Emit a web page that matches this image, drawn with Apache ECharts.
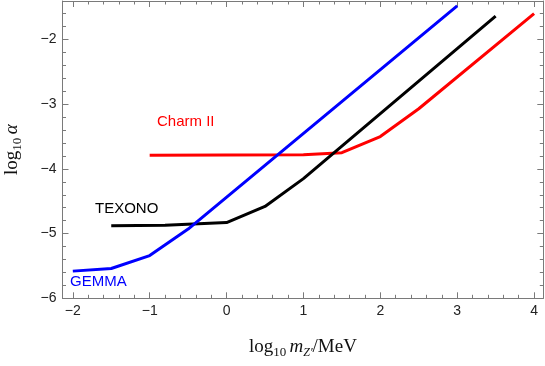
<!DOCTYPE html>
<html>
<head>
<meta charset="utf-8">
<script src="https://cdn.jsdelivr.net/npm/echarts@6/dist/echarts.min.js"></script>
<style>html,body{margin:0;padding:0;background:#fff;}#c{width:545px;height:366px;}</style>
</head>
<body>
<div id="c"></div>
<script>
// ---- data ----
var gemmaX  = [-2, -1.5, -1, -0.5, 3];
var gemmaY  = [-5.58, -5.54, -5.34, -4.93, -1.48];
var texonoX = [-1.5, -0.8, 0, 0.5, 1, 3.5];
var texonoY = [-4.88, -4.87, -4.83, -4.58, -4.15, -1.64];
var charmX  = [-1, 1, 1.5, 2, 2.5, 4];
var charmY  = [-3.79, -3.78, -3.75, -3.5, -3.07, -1.6];
var xTicks  = [-2, -1, 0, 1, 2, 3, 4];
var yTicks  = [-6, -5, -4, -3, -2];
var seriesNames = ['GEMMA', 'TEXONO', 'Charm II'];

var xMin = -2.134, xMax = 4.12, yMin = -6, yMax = -1.405;

function minorList(lo, hi, step, majors) {
  var out = [];
  for (var v = Math.ceil(lo / step) * step; v <= hi + 1e-9; v += step) {
    var r = Math.round(v * 1000) / 1000;
    if (majors.indexOf(r) < 0 && r > lo && r < hi) out.push(r);
  }
  return out;
}
var xMinor = minorList(xMin, xMax, 0.2, xTicks);
var yMinor = minorList(yMin, yMax, 0.2, yTicks);

function pairs(xs, ys) { return xs.map(function (x, i) { return [x, ys[i]]; }); }
function fmt(v) { return String(v).replace('-', '\u2212'); }

var axisCol = '#7a7a7a';
var serif = 'Liberation Serif';
var rich = {
  t:  { fontFamily: serif, fontSize: 19, color: '#111' },
  s:  { fontFamily: serif, fontSize: 13, color: '#111', padding: [12, 0, 0, 0] },
  i:  { fontFamily: serif, fontSize: 19, fontStyle: 'italic', color: '#111' },
  si: { fontFamily: serif, fontSize: 12, fontStyle: 'italic', color: '#111', padding: [12, 0, 0, 0] }
};

function xAx(pos, ticks, len, showLine, showLabel, name) {
  return {
    type: 'value', position: pos, min: xMin, max: xMax,
    axisLine: { show: showLine, onZero: false, lineStyle: { color: axisCol, width: 1 } },
    axisTick: { show: true, inside: true, length: len, customValues: ticks, lineStyle: { color: axisCol } },
    axisLabel: showLabel ? { show: true, customValues: xTicks, formatter: fmt, fontFamily: 'Liberation Sans', fontSize: 14, color: '#222', margin: 6 } : { show: false },
    splitLine: { show: false },
    name: name || '', nameLocation: 'middle', nameGap: 36,
    nameTextStyle: { rich: rich }
  };
}
function yAx(pos, ticks, len, showLine, showLabel, name) {
  return {
    type: 'value', position: pos, min: yMin, max: yMax,
    axisLine: { show: showLine, onZero: false, lineStyle: { color: axisCol, width: 1 } },
    axisTick: { show: true, inside: true, length: len, customValues: ticks, lineStyle: { color: axisCol } },
    axisLabel: showLabel ? { show: true, customValues: yTicks, formatter: fmt, fontFamily: 'Liberation Sans', fontSize: 14, color: '#222', margin: 6 } : { show: false },
    splitLine: { show: false },
    name: name || '', nameLocation: 'middle', nameGap: 38,
    nameTextStyle: { rich: rich }
  };
}

var chart = echarts.init(document.getElementById('c'), null, { renderer: 'canvas' });
chart.setOption({
  animation: false,
  backgroundColor: '#fff',
  grid: { left: 62.5, right: 1.7, top: 1, bottom: 67.7, containLabel: false, outerBoundsMode: 'none' },
  xAxis: [
    xAx('bottom', xTicks, 6, true, true, '{t|log}{s|10} {i|m}{si|Z\u2032}{t|/MeV}'),
    xAx('bottom', xMinor, 3.5, false, false),
    xAx('top', xTicks, 6, true, false),
    xAx('top', xMinor, 3.5, false, false)
  ],
  yAxis: [
    yAx('left', yTicks, 6, true, true, '{t|log}{s|10} {i|\u03b1}'),
    yAx('left', yMinor, 3.5, false, false),
    yAx('right', yTicks, 6, true, false),
    yAx('right', yMinor, 3.5, false, false)
  ],
  series: [
    { name: seriesNames[0], type: 'line', data: pairs(gemmaX, gemmaY), showSymbol: false, symbol: 'none',
      lineStyle: { color: '#0000ff', width: 3 }, z: 3 },
    { name: seriesNames[1], type: 'line', data: pairs(texonoX, texonoY), showSymbol: false, symbol: 'none',
      lineStyle: { color: '#000000', width: 3 }, z: 2 },
    { name: seriesNames[2], type: 'line', data: pairs(charmX, charmY), showSymbol: false, symbol: 'none',
      lineStyle: { color: '#ff0000', width: 3 }, z: 1 }
  ],
  graphic: [
    { type: 'text', left: 157, top: 114, style: { text: seriesNames[2], fill: '#ff0000', font: '15px "Liberation Sans"' } },
    { type: 'text', left: 95, top: 201, style: { text: seriesNames[1], fill: '#000000', font: '15px "Liberation Sans"' } },
    { type: 'text', left: 70, top: 274, style: { text: seriesNames[0], fill: '#0000ff', font: '15px "Liberation Sans"' } }
  ]
});
</script>
</body>
</html>
